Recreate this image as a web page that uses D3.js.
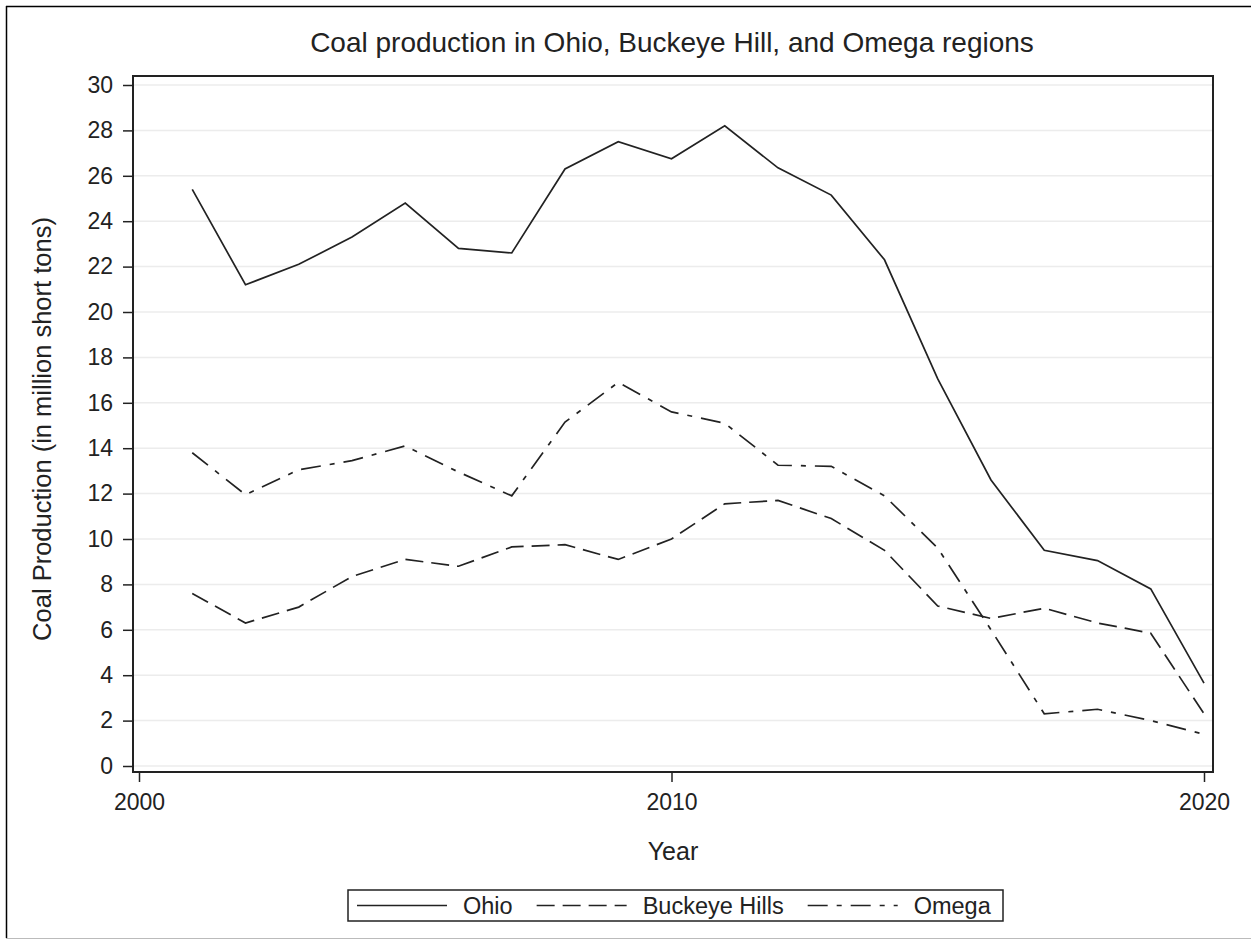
<!DOCTYPE html>
<html>
<head>
<meta charset="utf-8">
<script src="https://cdn.jsdelivr.net/npm/d3@7"></script>
<style>
  body { margin: 0; background: #fff; }
  text { font-family: "Liberation Sans", Arial, sans-serif; fill: #222; }
</style>
</head>
<body>
<div id="chart"></div>
<script>
// data
const years = [2001,2002,2003,2004,2005,2006,2007,2008,2009,2010,2011,2012,2013,2014,2015,2016,2017,2018,2019,2020];
const ohio = [25.4,21.2,22.1,23.3,24.8,22.8,22.6,26.3,27.5,26.75,28.2,26.35,25.15,22.3,17.05,12.6,9.5,9.05,7.8,3.65];
const buckeye = [7.6,6.3,7.0,8.35,9.1,8.8,9.65,9.75,9.1,10.0,11.55,11.7,10.9,9.5,7.05,6.5,6.95,6.3,5.85,2.3];
const omega = [13.8,11.95,13.05,13.45,14.1,12.95,11.9,15.15,16.9,15.6,15.1,13.25,13.2,11.9,9.6,6.0,2.3,2.5,2.0,1.4];
const xTicks = [2000,2010,2020];
const yTicks = [0,2,4,6,8,10,12,14,16,18,20,22,24,26,28,30];
const seriesNames = ["Ohio","Buckeye Hills","Omega"];
const dashes = [null,"18,8","20,9,5,9"];

const W = 1251, H = 941;
const box = {left:133, top:76, right:1213, bottom:772};

const svg = d3.select("#chart").append("svg").attr("width",W).attr("height",H);

// outer frame
svg.append("line").attr("x1",6.5).attr("x2",6.5).attr("y1",6).attr("y2",938).attr("stroke","#000").attr("stroke-width",1.5)
svg.append("line").attr("x1",6).attr("x2",W).attr("y1",6.5).attr("y2",6.5).attr("stroke","#000").attr("stroke-width",1.5)
svg.append("line").attr("x1",6).attr("x2",W).attr("y1",938.5).attr("y2",938.5).attr("stroke","#bbb").attr("stroke-width",1)

const x = d3.scaleLinear().domain([2000,2020]).range([139,1204]);
const y = d3.scaleLinear().domain([0,30]).range([766,85]);

// gridlines
svg.append("g").selectAll("line")
  .data(yTicks)
  .enter().append("line")
  .attr("x1",box.left).attr("x2",box.right)
  .attr("y1",d=>y(d)).attr("y2",d=>y(d))
  .attr("stroke","#ececec").attr("stroke-width",1.5)

// axes
const yAxis = svg.append("g").attr("transform",`translate(${box.left},0)`)
  .call(d3.axisLeft(y).tickValues(yTicks).tickSize(10).tickPadding(10))
const xAxis = svg.append("g").attr("transform",`translate(0,${box.bottom})`)
  .call(d3.axisBottom(x).tickValues(xTicks).tickFormat(d3.format("d")).tickSize(10).tickPadding(12))
svg.selectAll(".domain").remove()
svg.selectAll(".tick line").attr("stroke","#222").attr("stroke-width",1.5)
svg.selectAll(".tick text").style("font-size","23px").attr("fill","#222")

// plot frame
svg.append("rect")
  .attr("x",box.left).attr("y",box.top)
  .attr("width",box.right-box.left).attr("height",box.bottom-box.top)
  .attr("fill","none").attr("stroke","#222").attr("stroke-width",2)

// lines
const line = d3.line().x((d,i)=>x(years[i])).y(d=>y(d));
[ohio,buckeye,omega].forEach((s,k)=>{
  svg.append("path")
    .datum(s)
    .attr("d",line)
    .attr("fill","none")
    .attr("stroke","#222")
    .attr("stroke-width",1.7)
    .attr("stroke-dasharray",dashes[k])
});

// titles
svg.append("text").attr("x",672).attr("y",52).attr("text-anchor","middle")
  .style("font-size","28px").text("Coal production in Ohio, Buckeye Hill, and Omega regions")
svg.append("text").attr("x",673).attr("y",860).attr("text-anchor","middle")
  .style("font-size","25px").text("Year")
svg.append("text").attr("transform","translate(51,429) rotate(-90)").attr("text-anchor","middle")
  .style("font-size","25.5px").text("Coal Production (in million short tons)")

// legend
const lg = svg.append("g")
lg.append("rect").attr("x",348).attr("y",890).attr("width",655).attr("height",31)
  .attr("fill","#fff").attr("stroke","#222").attr("stroke-width",1.5)
let cx = 357;
seriesNames.forEach((n,k)=>{
  lg.append("line").attr("x1",cx).attr("x2",cx+90).attr("y1",905.5).attr("y2",905.5)
    .attr("stroke","#222").attr("stroke-width",1.7).attr("stroke-dasharray",dashes[k])
  const t = lg.append("text").attr("x",cx+106).attr("y",914).style("font-size","23.5px").text(n)
  cx += 106 + t.node().getComputedTextLength() + 24;
});
</script>
</body>
</html>
